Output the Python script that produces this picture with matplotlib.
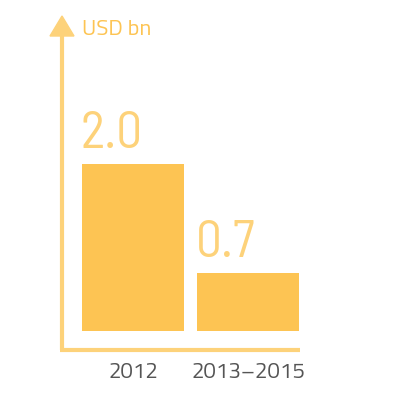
import matplotlib
matplotlib.use("Agg")
import matplotlib.pyplot as plt
from matplotlib.patches import Polygon

categories = ["2012", "2013\u20132015"]
values = [2.0, 0.7]
value_labels = ["2.0", "0.7"]
unit_label = "USD bn"

BAR = "#FDC453"
AXIS = "#FDD27A"
LABEL = "#FDD27A"
TICK = "#555555"

W, H = 408, 410
fig = plt.figure(figsize=(W / 100, H / 100), dpi=100)
fig.patch.set_facecolor("white")

# pixel geometry
x_left_px, x_right_px = 62, 300
y_bot_px, y_top_px = 351, 17
ax = fig.add_axes([x_left_px / W, 1 - y_bot_px / H,
                   (x_right_px - x_left_px) / W, (y_bot_px - y_top_px) / H])
ax.set_facecolor("none")

px_per_unit_y = 167 / 2.0
base_px = 332
ax.set_ylim(-(y_bot_px - base_px) / px_per_unit_y, (base_px - y_top_px) / px_per_unit_y)
spacing = 115
c0 = 133
ax.set_xlim((x_left_px - c0) / spacing, (x_right_px - c0) / spacing)

xs = list(range(len(categories)))
bars = ax.bar(xs, values, width=102 / spacing, color=BAR, linewidth=0)

vfont = ["Barlow Semi Condensed", "DejaVu Sans"]
font = ["Titillium Web", "DejaVu Sans"]
for b, lab in zip(bars, value_labels):
    ax.text(b.get_x() - 0.01, b.get_height() + 0.08, lab, ha="left", va="bottom",
            fontsize=37, color=LABEL, family=vfont, fontweight="normal")

ax.set_xticks(xs)
ax.set_xticklabels(categories, family=font, fontsize=16, color=TICK)
ax.tick_params(axis="x", length=0, pad=9)
ax.set_yticks([])
for s in ax.spines.values():
    s.set_visible(False)

# axis lines
ax.plot([0, 0], [0, 0.94], transform=ax.transAxes, color=AXIS, lw=3, clip_on=False,
        solid_capstyle="butt")
ax.plot([-0.008, 1.0], [0, 0], transform=ax.transAxes, color=AXIS, lw=3, clip_on=False,
        solid_capstyle="butt")
# arrow head
tri = Polygon([(-12 / (x_right_px - x_left_px), 1 - 20 / (y_bot_px - y_top_px)),
               (12 / (x_right_px - x_left_px), 1 - 20 / (y_bot_px - y_top_px)),
               (0, 1)], closed=True, transform=ax.transAxes, color=AXIS, clip_on=False)
ax.add_patch(tri)

fig.text(82 / W, 1 - 35 / H, unit_label, ha="left", va="baseline", fontsize=16,
         color="#FDC453", family=font)

fig.savefig("out.png", dpi=100)
